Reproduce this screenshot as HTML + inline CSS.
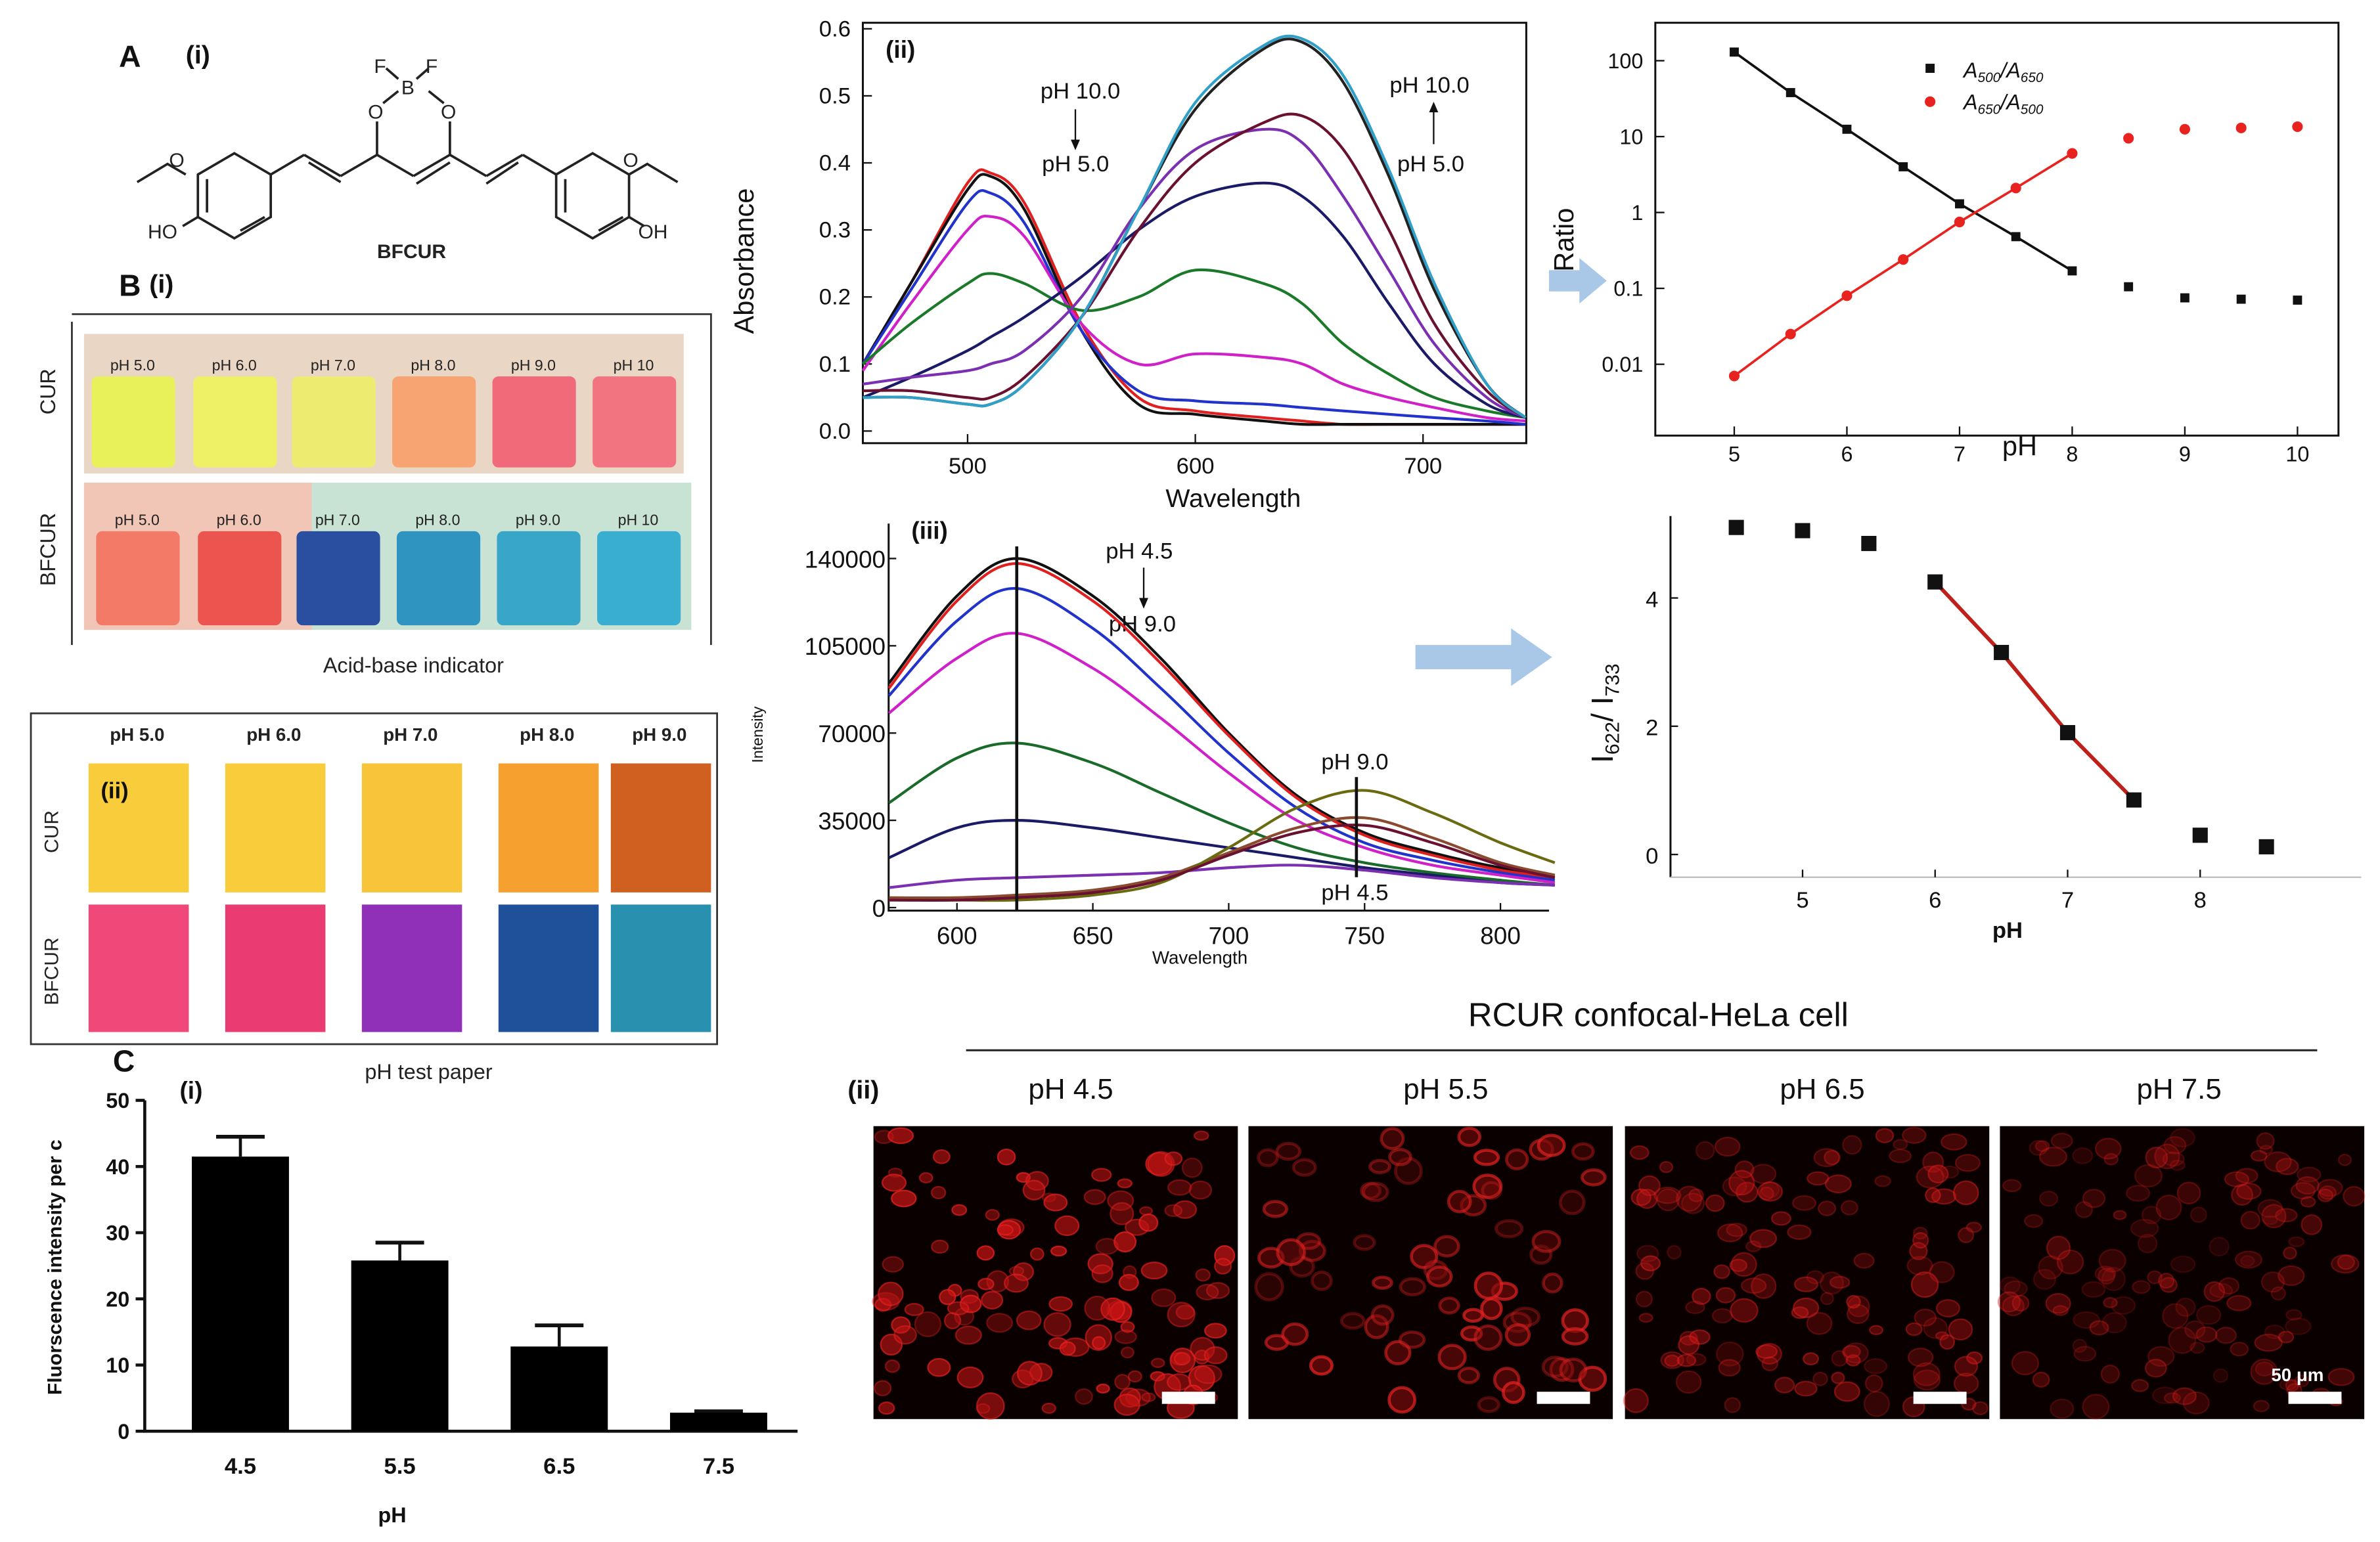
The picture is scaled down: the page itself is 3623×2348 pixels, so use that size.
<!DOCTYPE html>
<html><head><meta charset="utf-8"><style>
html,body{margin:0;padding:0;background:#fff}
svg{display:block}
text{font-family:"Liberation Sans",Arial,sans-serif}
</style></head><body>
<svg id="fig" xmlns="http://www.w3.org/2000/svg" width="3623" height="2348" viewBox="0 0 1567 1016">
<rect width="1567" height="1016" fill="#fff"/>
<!-- Panel A -->
<g stroke="#222" stroke-width="1.6" fill="none">
<text x="78" y="44" font-size="20" font-weight="bold" fill="#111" stroke="none">A</text>
<text x="122" y="42" font-size="17" font-weight="bold" fill="#111" stroke="none">(i)</text>
<polyline points="90,120 110,108 122,115"/>
<polygon points="130,115 154,101 178,115 178,143 154,157 130,143"/>
<line x1="136" y1="118" x2="136" y2="140"/><line x1="158" y1="152" x2="174" y2="143"/>
<line x1="178" y1="115" x2="200" y2="102"/><line x1="200" y1="102" x2="224" y2="116"/><line x1="203" y1="107" x2="224" y2="120"/>
<line x1="224" y1="116" x2="248" y2="102"/><line x1="248" y1="102" x2="272" y2="116"/><line x1="272" y1="116" x2="296" y2="102"/><line x1="274" y1="121" x2="296" y2="107"/>
<line x1="248" y1="102" x2="248" y2="80"/><line x1="296" y1="102" x2="296" y2="80"/>
<line x1="296" y1="102" x2="320" y2="116"/><line x1="320" y1="116" x2="344" y2="102"/><line x1="320" y1="121" x2="341" y2="107"/>
<line x1="344" y1="102" x2="366" y2="115"/>
<polygon points="366,115 390,101 414,115 414,143 390,157 366,143"/>
<line x1="372" y1="118" x2="372" y2="140"/><line x1="394" y1="152" x2="410" y2="143"/>
<polyline points="414,115 426,108 446,120"/><line x1="414" y1="143" x2="424" y2="149"/><line x1="130" y1="143" x2="120" y2="149"/>
<line x1="252" y1="68" x2="262" y2="60"/><line x1="282" y1="60" x2="292" y2="68"/>
<line x1="262" y1="52" x2="254" y2="45"/><line x1="274" y1="52" x2="282" y2="45"/>
<g fill="#222" stroke="none" font-size="13">
<text x="242" y="78">O</text><text x="290" y="78">O</text><text x="264" y="62">B</text>
<text x="246" y="48">F</text><text x="280" y="48">F</text>
<text x="97" y="157">HO</text><text x="420" y="157">OH</text>
<text x="111" y="110">O</text><text x="410" y="110">O</text>
<text x="248" y="170" font-weight="bold" font-size="13">BFCUR</text>
</g></g>
<!-- Panel B(i) -->
<g>
<text x="78" y="195" font-size="20" font-weight="bold" fill="#111">B</text>
<text x="98" y="193" font-size="17" font-weight="bold" fill="#111">(i)</text>
<path d="M47,212 V425 M47,207 H468 V425" stroke="#333" stroke-width="1.2" fill="none"/>
<rect x="55" y="220" width="395" height="92" fill="#ead6c4"/>
<rect x="55" y="318" width="400" height="97" fill="#c8e2d4"/>
<rect x="55" y="318" width="150" height="97" fill="#f2c6b6"/>
<g id="vials"></g>
<text x="36" y="258" font-size="14" transform="rotate(-90 36 258)" text-anchor="middle" fill="#222">CUR</text>
<text x="36" y="362" font-size="14" transform="rotate(-90 36 362)" text-anchor="middle" fill="#222">BFCUR</text>
<text x="272" y="443" font-size="14" text-anchor="middle" fill="#222">Acid-base indicator</text>
</g>
<!-- Panel B(ii) -->
<g>
<rect x="20" y="470" width="452" height="218" fill="none" stroke="#333" stroke-width="1.2"/>
<g id="papers"></g>
<text x="66" y="526" font-size="15" font-weight="bold" fill="#111">(ii)</text>
<text x="38" y="548" font-size="13" transform="rotate(-90 38 548)" text-anchor="middle" fill="#222">CUR</text>
<text x="38" y="640" font-size="13" transform="rotate(-90 38 640)" text-anchor="middle" fill="#222">BFCUR</text>
<text x="282" y="711" font-size="14" text-anchor="middle" fill="#222">pH test paper</text>
</g>
<!-- Panel C(i) bar chart -->
<g id="barchart">
<text x="74" y="706" font-size="20" font-weight="bold" fill="#111">C</text>
<text x="118" y="724" font-size="16" font-weight="bold" fill="#111">(i)</text>
<text x="40" y="835" font-size="13" transform="rotate(-90 40 835)" text-anchor="middle" fill="#111" font-weight="bold">Fluorscence intensity per c</text>
<text x="258" y="1003" font-size="14" font-weight="bold" text-anchor="middle" fill="#111">pH</text>
</g>
<!-- Absorbance -->
<g id="abs">
<text x="583" y="38" font-size="16" font-weight="bold" fill="#111">(ii)</text>
<text x="496" y="172" font-size="18" transform="rotate(-90 496 172)" text-anchor="middle" fill="#111">Absorbance</text>
<text x="812" y="334" font-size="17" text-anchor="middle" fill="#111">Wavelength</text>
<text x="685" y="65" font-size="15" fill="#111">pH 10.0</text><text x="686" y="113" font-size="15" fill="#111">pH 5.0</text>
<line x1="708" y1="72" x2="708" y2="96" stroke="#111"/><path d="M705,92 L708,99 L711,92Z" fill="#111"/>
<text x="915" y="61" font-size="15" fill="#111">pH 10.0</text><text x="920" y="113" font-size="15" fill="#111">pH 5.0</text>
<line x1="944" y1="70" x2="944" y2="95" stroke="#111"/><path d="M941,74 L944,67 L947,74Z" fill="#111"/>
</g>
<!-- Ratio chart -->
<g id="ratio">
<text x="1036" y="158" font-size="18" transform="rotate(-90 1036 158)" text-anchor="middle" fill="#111">Ratio</text>
<text x="1330" y="300" font-size="18" text-anchor="middle" fill="#111">pH</text>
<rect x="1268" y="42" width="6" height="6" fill="#111"/>
<text x="1293" y="51" font-size="14" font-style="italic" fill="#111">A<tspan font-size="9" dy="3">500</tspan><tspan dy="-3">/A</tspan><tspan font-size="9" dy="3">650</tspan></text>
<circle cx="1271" cy="67" r="3.5" fill="#e8231f"/>
<text x="1293" y="72" font-size="14" font-style="italic" fill="#111">A<tspan font-size="9" dy="3">650</tspan><tspan dy="-3">/A</tspan><tspan font-size="9" dy="3">500</tspan></text>
</g>
<!-- arrows -->
<path d="M1020,178 H1040 V170 L1058,185 L1040,200 V192 H1020Z" fill="#a9c8e8"/>
<path d="M932,425 H995 V414 L1022,433 L995,452 V441 H932Z" fill="#a9c8e8"/>
<!-- Intensity chart -->
<g id="inten">
<text x="600" y="355" font-size="16" font-weight="bold" fill="#111">(iii)</text>
<text x="502" y="484" font-size="10" transform="rotate(-90 502 484)" text-anchor="middle" fill="#111">Intensity</text>
<text x="790" y="635" font-size="12" text-anchor="middle" fill="#111">Wavelength</text>
<text x="728" y="368" font-size="15" fill="#111">pH 4.5</text><text x="730" y="416" font-size="15" fill="#111">pH 9.0</text>
<line x1="753" y1="374" x2="753" y2="398" stroke="#111"/><path d="M750,394 L753,401 L756,394Z" fill="#111"/>
<text x="870" y="507" font-size="15" fill="#111">pH 9.0</text><text x="870" y="593" font-size="15" fill="#111">pH 4.5</text>
</g>
<!-- I622/I733 -->
<g id="ichart">
<text x="1062" y="470" font-size="20" transform="rotate(-90 1062 470)" text-anchor="middle" fill="#111">I<tspan font-size="13" dy="4">622</tspan><tspan dy="-4">/ I</tspan><tspan font-size="13" dy="4">733</tspan></text>
<text x="1322" y="618" font-size="15" font-weight="bold" text-anchor="middle" fill="#111">pH</text>
</g>
<!-- Confocal -->
<g>
<text x="1092" y="676" font-size="22" text-anchor="middle" fill="#111">RCUR confocal-HeLa cell</text>
<line x1="636" y1="692" x2="1526" y2="692" stroke="#222" stroke-width="1.3"/>
<text x="558" y="724" font-size="17" font-weight="bold" fill="#111">(ii)</text>
<g id="conf"></g>
<text x="1513" y="910" font-size="12" font-weight="bold" fill="#fff" font-family="Liberation Serif" text-anchor="middle">50 μm</text>
</g>
</svg>
<script>
const NS="http://www.w3.org/2000/svg";
function mk(tag,attrs,parent){const e=document.createElementNS(NS,tag);for(const k in attrs)e.setAttribute(k,attrs[k]);parent.appendChild(e);return e;}
function txt(s,attrs,parent){const e=mk('text',attrs,parent);e.textContent=s;return e;}
function smooth(pts){let d='M'+pts[0][0]+','+pts[0][1];for(let i=0;i<pts.length-1;i++){const p0=pts[i-1]||pts[i],p1=pts[i],p2=pts[i+1],p3=pts[i+2]||p2;const c1x=p1[0]+(p2[0]-p0[0])/6,c1y=p1[1]+(p2[1]-p0[1])/6,c2x=p2[0]-(p3[0]-p1[0])/6,c2y=p2[1]-(p3[1]-p1[1])/6;d+=`C${c1x},${c1y} ${c2x},${c2y} ${p2[0]},${p2[1]}`;}return d;}

// vials
const vialLabels=["pH 5.0","pH 6.0","pH 7.0","pH 8.0","pH 9.0","pH 10"];
const curVial=["#e8f05a","#eef066","#eeec70","#f7a472","#f06a7a","#f27480"];
const bfVial=["#f47a68","#ec5450","#2a4fa0","#2f95c0","#38a6c8","#3aaed0"];
const vx=[60,127,192,258,324,390];
const vg=document.getElementById('vials');
vx.forEach((x,i)=>{
 let r=mk('rect',{x:x,y:248,width:55,height:60,rx:4,fill:curVial[i]},vg);
 
 txt(vialLabels[i],{x:x+27,y:244,'font-size':10,'text-anchor':'middle',fill:'#222'},vg);
 let b=mk('rect',{x:x+3,y:350,width:55,height:62,rx:4,fill:bfVial[i]},vg);
 
 txt(vialLabels[i],{x:x+30,y:346,'font-size':10,'text-anchor':'middle',fill:'#222'},vg);
});
// papers
const pLabels=["pH 5.0","pH 6.0","pH 7.0","pH 8.0","pH 9.0"];
const curPaper=["#f8cc3a","#f8cc3a","#f8c43a","#f6a030","#d06020"];
const bfPaper=["#f04878","#ea3c72","#9030b8","#1f509a","#2a90b0"];
const px=[58,148,238,328,402];
const pg=document.getElementById('papers');
px.forEach((x,i)=>{
 txt(pLabels[i],{x:x+32,y:488,'font-size':12,'font-weight':'bold','text-anchor':'middle',fill:'#222'},pg);
 let a=mk('rect',{x:x,y:503,width:66,height:85,fill:curPaper[i]},pg);
 
 let b=mk('rect',{x:x,y:596,width:66,height:84,fill:bfPaper[i]},pg);
 
});

// Bar chart
const barCats=["4.5","5.5","6.5","7.5"];
const barVals=[41.5,25.8,12.8,2.8];
const barErr=[44.5,28.5,16,3.0];
const barTicks=[0,10,20,30,40,50];
(function(){const g=document.getElementById('barchart');
 const x0=95,x1=525,yb=943,yt=725;const Y=v=>yb-(v/50)*(yb-yt);const X=i=>158+i*105;
 mk('path',{d:`M${x0},${yt} V${yb} H${x1}`,stroke:'#111','stroke-width':2,fill:'none'},g);
 barTicks.forEach(t=>{mk('line',{x1:x0-6,y1:Y(t),x2:x0,y2:Y(t),stroke:'#111','stroke-width':2},g);
  txt(String(t),{x:x0-10,y:Y(t)+5,'font-size':14,'text-anchor':'end',fill:'#111','font-weight':'bold'},g);});
 barVals.forEach((v,i)=>{
  mk('line',{x1:X(i),y1:Y(barErr[i]),x2:X(i),y2:Y(v),stroke:'#111','stroke-width':2},g);
  mk('line',{x1:X(i)-16,y1:Y(barErr[i]),x2:X(i)+16,y2:Y(barErr[i]),stroke:'#111','stroke-width':2.5},g);
  const r=mk('rect',{x:X(i)-32,y:Y(v),width:64,height:yb-Y(v),fill:'#000'},g);
  
  
  txt(barCats[i],{x:X(i),y:yb+28,'font-size':15,'text-anchor':'middle',fill:'#111','font-weight':'bold'},g);
 });
})();

// Absorbance
const absWl=[454,475,500,510,525,550,575,600,630,647,665,685,705,728,745];
const absColors=["#e02020","#111","#2233cc","#d020c8","#1a7a2a","#1a1a66","#7a30b0","#6a1030","#222","#30a0c8"];
const absSeries=[
[0.10,0.22,0.37,0.385,0.34,0.16,0.05,0.03,0.02,0.015,0.01,0.01,0.01,0.01,0.01],
[0.10,0.22,0.36,0.38,0.33,0.15,0.04,0.025,0.015,0.01,0.01,0.01,0.01,0.01,0.01],
[0.10,0.21,0.34,0.355,0.31,0.15,0.06,0.045,0.04,0.035,0.03,0.025,0.02,0.015,0.01],
[0.09,0.19,0.30,0.32,0.29,0.16,0.10,0.115,0.11,0.10,0.07,0.05,0.035,0.02,0.015],
[0.10,0.16,0.22,0.235,0.22,0.18,0.20,0.24,0.22,0.19,0.13,0.085,0.05,0.03,0.02],
[0.05,0.08,0.12,0.14,0.17,0.23,0.30,0.35,0.37,0.35,0.29,0.19,0.10,0.04,0.02],
[0.07,0.08,0.09,0.10,0.12,0.20,0.33,0.42,0.45,0.43,0.35,0.24,0.13,0.05,0.02],
[0.06,0.06,0.05,0.05,0.08,0.17,0.30,0.40,0.46,0.47,0.42,0.30,0.16,0.06,0.02],
[0.05,0.05,0.04,0.04,0.07,0.17,0.33,0.48,0.57,0.58,0.52,0.38,0.21,0.07,0.02],
[0.05,0.05,0.04,0.04,0.07,0.17,0.33,0.49,0.575,0.585,0.53,0.39,0.22,0.07,0.02]];
const absXTicks=[500,600,700];
const absYTicks=["0.0","0.1","0.2","0.3","0.4","0.5","0.6"];
(function(){const g=document.getElementById('abs');
 const X=w=>637+(w-500)*1.5,Y=v=>284-v*441.7;
 mk('rect',{x:568,y:15,width:437,height:277,fill:'none',stroke:'#111','stroke-width':1.3},g);
 absXTicks.forEach(t=>{mk('line',{x1:X(t),y1:292,x2:X(t),y2:286,stroke:'#111'},g);txt(String(t),{x:X(t),y:312,'font-size':15,'text-anchor':'middle',fill:'#111'},g);});
 absYTicks.forEach(t=>{mk('line',{x1:568,y1:Y(+t),x2:574,y2:Y(+t),stroke:'#111'},g);txt(t,{x:560,y:Y(+t)+5,'font-size':15,'text-anchor':'end',fill:'#111'},g);});
 absSeries.forEach((s,i)=>{const p=mk('path',{d:smooth(s.map((v,j)=>[X(absWl[j]),Y(v)])),stroke:absColors[i],'stroke-width':1.8,fill:'none'},g);
  });
})();

// Ratio chart
const ratioPH=[5,5.5,6,6.5,7,7.5,8,8.5,9,9.5,10];
const ratioA500=[130,38,12.5,4,1.3,0.48,0.17,0.105,0.075,0.072,0.07];
const ratioA650=[0.007,0.025,0.08,0.24,0.75,2.1,6,9.5,12.5,13,13.5];
const ratioYTicks=["0.01","0.1","1","10","100"];
const ratioXTicks=[5,6,7,8,9,10];
(function(){const g=document.getElementById('ratio');
 const X=p=>1142+(p-5)*74.2,Y=v=>240-(Math.log10(v)+2)*50;
 mk('rect',{x:1090,y:15,width:450,height:272,fill:'none',stroke:'#111','stroke-width':1.3},g);
 ratioXTicks.forEach(t=>{mk('line',{x1:X(t),y1:287,x2:X(t),y2:281,stroke:'#111'},g);txt(String(t),{x:X(t),y:304,'font-size':14,'text-anchor':'middle',fill:'#111'},g);});
 ratioYTicks.forEach(t=>{mk('line',{x1:1090,y1:Y(+t),x2:1096,y2:Y(+t),stroke:'#111'},g);txt(t,{x:1082,y:Y(+t)+5,'font-size':14,'text-anchor':'end',fill:'#111'},g);});
 const fitB=ratioPH.map((p,i)=>[p,ratioA500[i]]).filter(d=>d[0]<=8);
 const fitR=ratioPH.map((p,i)=>[p,ratioA650[i]]).filter(d=>d[0]<=8);
 mk('path',{d:'M'+fitB.map(d=>X(d[0])+','+Y(d[1])).join('L'),stroke:'#111','stroke-width':1.6,fill:'none'},g);
 mk('path',{d:'M'+fitR.map(d=>X(d[0])+','+Y(d[1])).join('L'),stroke:'#e8231f','stroke-width':1.6,fill:'none'},g);
 ratioPH.forEach((p,i)=>{const r=mk('rect',{x:X(p)-3,y:Y(ratioA500[i])-3,width:6,height:6,fill:'#111'},g);
  
  const c=mk('circle',{cx:X(p),cy:Y(ratioA650[i]),r:3.5,fill:'#e8231f'},g);
  });
})();

// Intensity chart
const intWl=[575,600,622,650,675,700,725,750,775,800,820];
const intColors=["#111","#e02020","#2233cc","#d020c8","#1a6a2a","#1a1a66","#7a30b0","#8a4a30","#6a6a10","#6a1030"];
const intSeries=[
[90000,125000,140000,125000,100000,70000,45000,30000,22000,16000,13000],
[88000,123000,138000,123000,98000,69000,44000,29000,21000,15000,12000],
[85000,115000,128000,112000,88000,62000,40000,26000,19000,14000,11000],
[78000,100000,110000,96000,76000,54000,35000,24000,17000,13000,10000],
[42000,60000,66000,58000,46000,34000,24000,18000,14000,11000,9000],
[20000,32000,35000,32000,28000,24000,20000,16000,13000,10000,9000],
[8000,11000,12000,13000,14000,16000,17000,15000,12000,10000,9000],
[4000,4000,5000,7000,12000,22000,32000,36000,28000,18000,13000],
[3000,3000,3000,5000,10000,24000,40000,47000,38000,26000,18000],
[3000,3000,4000,6000,11000,21000,30000,33000,26000,17000,12000]];
const intYTicks=["0","35000","70000","105000","140000"];
const intXTicks=[600,650,700,750,800];
(function(){const g=document.getElementById('inten');
 const X=w=>630+(w-600)*1.79,Y=v=>598-v/35000*57.5;
 mk('path',{d:'M585,345 V600 H1020',stroke:'#111','stroke-width':1.3,fill:'none'},g);
 intXTicks.forEach(t=>{mk('line',{x1:X(t),y1:600,x2:X(t),y2:595,stroke:'#111'},g);txt(String(t),{x:X(t),y:622,'font-size':16,'text-anchor':'middle',fill:'#111'},g);});
 intYTicks.forEach(t=>{mk('line',{x1:585,y1:Y(+t),x2:590,y2:Y(+t),stroke:'#111'},g);txt(t,{x:583,y:Y(+t)+6,'font-size':16,'text-anchor':'end',fill:'#111'},g);});
 intSeries.forEach((s,i)=>{const p=mk('path',{d:smooth(s.map((v,j)=>[X(intWl[j]),Y(v)])),stroke:intColors[i],'stroke-width':1.8,fill:'none'},g);
  });
 mk('line',{x1:X(622),y1:360,x2:X(622),y2:600,stroke:'#111','stroke-width':2},g);
 mk('line',{x1:X(747),y1:512,x2:X(747),y2:578,stroke:'#111','stroke-width':2},g);
})();

// I622/I733
const iPH=[4.5,5,5.5,6,6.5,7,7.5,8,8.5];
const iVals=[5.1,5.05,4.85,4.25,3.15,1.9,0.85,0.3,0.12];
const iXTicks=[5,6,7,8];
const iYTicks=[0,2,4];
(function(){const g=document.getElementById('ichart');
 const X=p=>1187+(p-5)*87.3,Y=v=>563-v*42.25;
 mk('path',{d:'M1100,340 V578',stroke:'#111','stroke-width':1.3,fill:'none'},g);
 mk('path',{d:'M1100,578 H1555',stroke:'#bbb','stroke-width':1,fill:'none'},g);
 iXTicks.forEach(t=>{mk('line',{x1:X(t),y1:578,x2:X(t),y2:573,stroke:'#111'},g);txt(String(t),{x:X(t),y:598,'font-size':15,'text-anchor':'middle',fill:'#111'},g);});
 iYTicks.forEach(t=>{mk('line',{x1:1100,y1:Y(t),x2:1105,y2:Y(t),stroke:'#111'},g);txt(String(t),{x:1092,y:Y(t)+6,'font-size':15,'text-anchor':'end',fill:'#111'},g);});
 const fit=iPH.map((p,i)=>[p,iVals[i]]).filter(d=>d[0]>=6&&d[0]<=7.5);
 mk('path',{d:'M'+fit.map(d=>X(d[0])+','+Y(d[1])).join('L'),stroke:'#c0201a','stroke-width':2.5,fill:'none'},g);
 iPH.forEach((p,i)=>{const r=mk('rect',{x:X(p)-5,y:Y(iVals[i])-5,width:10,height:10,fill:'#111'},g);
  });
})();

// Confocal images
(function(){const g=document.getElementById('conf');
 const xs=[575,822,1070,1317],labs=["pH 4.5","pH 5.5","pH 6.5","pH 7.5"],lx=[705,952,1200,1435];
 const bright=[1,0.95,0.6,0.45];
 let seed=7;const rnd=()=>{seed=(seed*16807)%2147483647;return seed/2147483647;};
 xs.forEach((x,k)=>{
  txt(labs[k],{x:lx[k],y:724,'font-size':19,'text-anchor':'middle',fill:'#111'},g);
  const r=mk('rect',{x:x,y:742,width:240,height:193,fill:'#0a0000'},g);
  
  const n=k==1?70:130;
  for(let i=0;i<n;i++){const cx=x+6+rnd()*228,cy=748+rnd()*181;const rr=k==1?(6+rnd()*3):(4+rnd()*5);
   const a=(0.3+rnd()*0.45)*bright[k];
   mk('ellipse',{cx:cx,cy:cy,rx:rr,ry:rr*(0.6+rnd()*0.4),fill:k==1?`rgba(120,10,10,${a})`:`rgba(200,20,20,${a})`,stroke:`rgba(235,35,35,${a})`,'stroke-width':k==1?2:1},g);}
  mk('rect',{x:x+190,y:917,width:35,height:8,fill:'#fff'},g);
 });
})();
</script>
</body></html>
